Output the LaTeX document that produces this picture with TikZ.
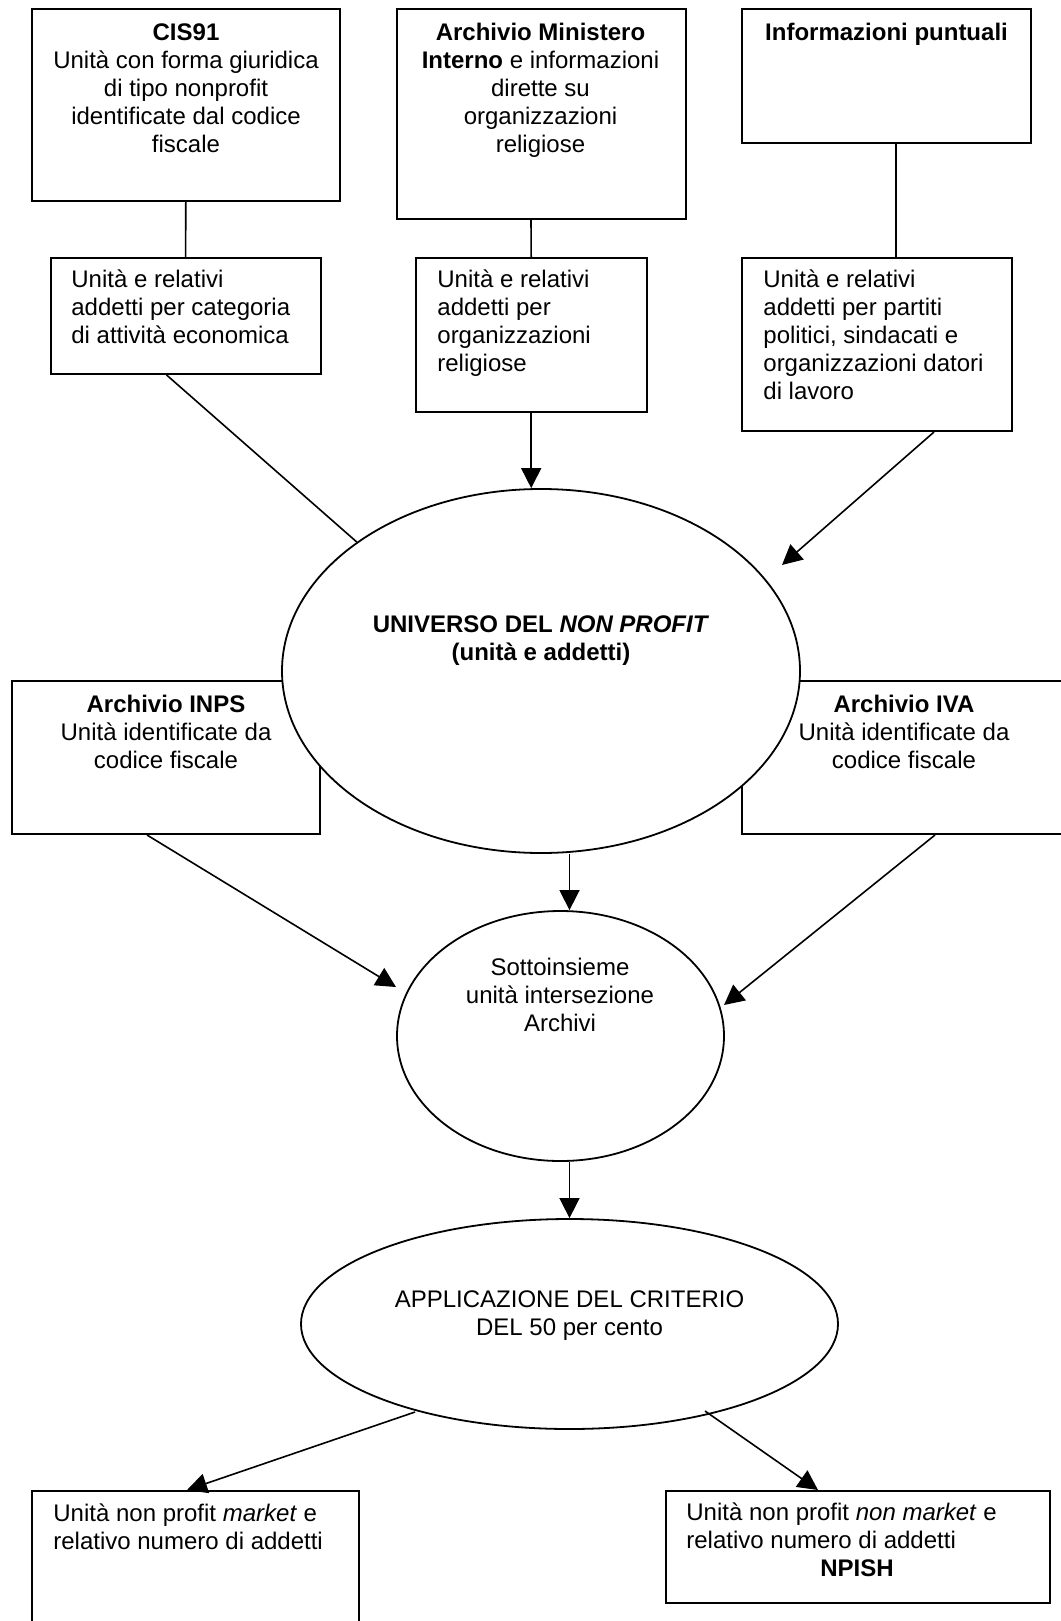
\documentclass[tikz,border=0pt]{standalone}
\usepackage{fontspec}
\setmainfont{Liberation Sans}
\usetikzlibrary{shapes.geometric,arrows.meta,calc}
\begin{document}
\begin{tikzpicture}[x=0.5pt,y=-0.5pt,
  box/.style={draw,line width=1pt,rectangle,inner sep=0pt,fill=white},
  oval/.style={draw,line width=0.9pt,ellipse,inner sep=0pt,fill=white},
  txt/.style={inner sep=0pt,font=\fontsize{12pt}{13.9pt}\selectfont},
  ctext/.style={txt,anchor=north,align=center},
  ltext/.style={txt,anchor=north west,align=left},
  link/.style={line width=0.8pt},
  arr/.style={link,-{Triangle[length=10pt,width=10pt]}}]
\useasboundingbox (0,0) rectangle (1060,1621);

% source boxes (top row) and their summaries
\node[box,minimum width=154pt,minimum height=96pt] (cis) at (185.8,105) {};
\node[box,minimum width=144.5pt,minimum height=105pt] (arch) at (541,114) {};
\node[box,minimum width=144.4pt,minimum height=67pt] (info) at (886.7,76) {};
\node[box,minimum width=134.9pt,minimum height=58pt] (cisU) at (185.6,316) {};
\node[box,minimum width=115.4pt,minimum height=77pt] (archU) at (531.2,335) {};
\node[box,minimum width=134.7pt,minimum height=86.5pt] (infoU) at (877,344.5) {};

% administrative archives, partly hidden behind the universe oval
\node[box,minimum width=154pt,minimum height=76.5pt] (inps) at (166,757.5) {};
\node[box,minimum width=169pt,minimum height=76.5pt] (iva) at (911,757.5) {};

% central ovals
\node[oval,minimum width=259pt,minimum height=182pt] (uni) at (541,671) {};
\node[oval,minimum width=163.5pt,minimum height=125pt] (sub) at (560.5,1036) {};
\node[oval,minimum width=268.5pt,minimum height=105pt] (app) at (569.5,1324) {};

% results
\node[box,minimum width=163.5pt,minimum height=79.5pt] (mkt) at (195.5,1570.5) {};
\node[box,minimum width=192pt,minimum height=56pt] (nmkt) at (858,1547) {};

% texts
\node[ctext] (cisT) at (186,21) {\strut\textbf{CIS91}\\Unità con forma giuridica\\di tipo nonprofit\hspace*{7pt}\\identificate dal codice\\fiscale};
\node[ctext] (archT) at (540.5,21) {\strut\textbf{Archivio Ministero}\\\textbf{Interno} e informazioni\\dirette su\\organizzazioni\\religiose};
\node[ctext] (infoT) at (886.5,21) {\strut\textbf{Informazioni puntuali}};
\node[ltext] (cisUT) at (71,268) {\strut Unità e relativi\\addetti per categoria\\di attività economica};
\node[ltext] (archUT) at (437,268) {\strut Unità e relativi\\addetti per\\organizzazioni\\religiose};
\node[ltext] (infoUT) at (763,268) {\strut Unità e relativi\\addetti per partiti\\politici, sindacati e\\organizzazioni datori\\di lavoro};
\node[ctext] (inpsT) at (166,693) {\strut\textbf{Archivio INPS}\\Unità identificate da\\codice fiscale};
\node[ctext] (ivaT) at (904,693) {\strut\textbf{Archivio IVA}\\Unità identificate da\\codice fiscale};
\node[ctext] (uniT) at (541,613) {\strut\textbf{UNIVERSO DEL \textit{NON PROFIT}}\\\textbf{(unità e addetti)}};
\node[ctext] (subT) at (560,956) {\strut Sottoinsieme\\unità intersezione\\Archivi};
\node[ctext] (appT) at (569.5,1288) {\strut APPLICAZIONE DEL CRITERIO\\DEL 50 per cento};
\node[ltext] (mktT) at (53,1502) {\strut Unità non profit \textit{market} e\\relativo numero di addetti};
\node[ltext] (nmktT) at (686,1501) {\strut Unità non profit \textit{non market} e\\relativo numero di addetti\\\hspace*{67pt}\textbf{NPISH}};

% free arrow ends
\coordinate (tipA) at (782,565);
\coordinate (tipB) at (396,987);
\coordinate (tipC) at (724,1005);

% connectors
\draw[link] (cis.south) -- (cisU.north);
\draw[link] ([xshift=-5pt]arch.south) -- (archU.north);
\draw[link] ([xshift=4.65pt]info.south) -- ([xshift=9.5pt]infoU.north);
\draw[link] ([xshift=-9.5pt]cisU.south) -- (uni.145.7);
\draw[arr] (archU.south) -- (archU.south |- uni.north);
\draw[arr] ([xshift=28.5pt]infoU.south) -- (tipA);
\draw[arr] ([xshift=-9.5pt]inps.south) -- (tipB);
\draw[arr] ([xshift=12pt]iva.south) -- (tipC);
\draw[arr] ([xshift=14.25pt]uni.south) -- ([xshift=14.25pt]uni.south |- sub.north);
\draw[arr] ([xshift=4.5pt]sub.south) -- ([xshift=4.5pt]sub.south |- app.north);
\draw[arr] ($(app)+(-154.5,88)$) -- ([xshift=-4.25pt]mkt.north);
\draw[arr] ($(app)+(135.5,87)$) -- ([xshift=-20pt]nmkt.north);
\end{tikzpicture}
\end{document}
